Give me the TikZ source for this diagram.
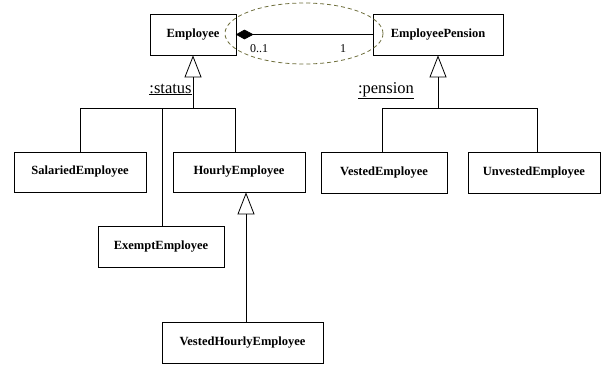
\documentclass[tikz,border=0pt]{standalone}
\usepackage{fontspec}
\setmainfont{Liberation Serif}
\usetikzlibrary{arrows.meta}
\definecolor{ellcol}{RGB}{110,110,60}
\begin{document}
\begin{tikzpicture}[x=1pt,y=-1pt,line width=0.8pt,
  cls/.style={draw,fill=white,inner sep=0pt,font=\fontsize{12.5}{14}\selectfont\bfseries},
  gen/.style={-{Triangle[open,length=22pt,width=17pt]}},
  lbl/.style={inner sep=0pt,font=\fontsize{16.5}{18}\selectfont},
  mult/.style={inner sep=0pt,font=\fontsize{12}{13}\selectfont},
  ell/.style={ellcol,dash pattern=on 4pt off 3pt,line width=0.8pt}]
\useasboundingbox (0,0) rectangle (601,365);
% classes
\node[cls,minimum width=86pt,minimum height=41pt] (emp) at (193,34.5) {Employee};
\node[cls,minimum width=130pt,minimum height=41pt] (pen) at (438,34.5) {EmployeePension};
\node[cls,minimum width=132pt,minimum height=40pt] (sal) at (80,172) {SalariedEmployee};
\node[cls,minimum width=132pt,minimum height=40pt] (hour) at (239,172) {HourlyEmployee};
\node[cls,minimum width=126pt,minimum height=41pt] (exe) at (161,246.5) {ExemptEmployee};
\node[cls,minimum width=161pt,minimum height=41pt] (vh) at (242.5,342.5) {VestedHourlyEmployee};
\node[cls,minimum width=126pt,minimum height=41pt] (ves) at (384,172.5) {VestedEmployee};
\node[cls,minimum width=132pt,minimum height=41pt] (unv) at (534,172.5) {UnvestedEmployee};
% highlight ellipse
\draw[ell] (304,33.5) ellipse [x radius=79,y radius=30.5];
% composition
\coordinate (dt) at (253,34.5);
\fill[line width=0.6pt,draw] (emp.east) -- (244.5,30) -- (dt) -- (244.5,39) -- cycle;
\draw (dt) -- (pen.west);
\node[mult] (m1) at (259,49) {0..1};
\node[mult] (m2) at (343,49) {1};
% status generalization
\coordinate (js) at (193,108.5);
\draw[gen] (js) -- (emp.south);
\draw (sal.north) -- (sal.north |- js) -- ([xshift=-4pt]hour.north |- js) -- ([xshift=-4pt]hour.north);
\draw ([xshift=1pt]exe.north) -- ([xshift=1pt]exe.north |- js);
\node[lbl,anchor=base east] (st) at (192,93) {\underline{:status}};
% hourly generalization
\draw[gen] ([xshift=3.5pt]vh.north) -- ([xshift=3.5pt]vh.north |- hour.south);
% pension generalization
\coordinate (jp) at (438,108.5);
\draw[gen] (jp) -- (pen.south);
\draw ([xshift=-2pt]ves.north) -- ([xshift=-2pt]ves.north |- jp) -- ([xshift=3pt]unv.north |- jp) -- ([xshift=3pt]unv.north);
\node[lbl,anchor=base] (pl) at (386,93) {\underline{:pension}};
\end{tikzpicture}
\end{document}
